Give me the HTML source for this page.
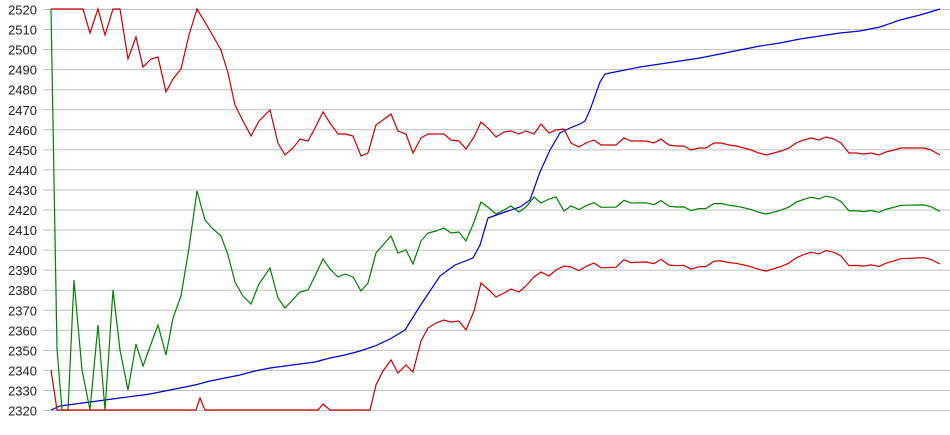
<!DOCTYPE html>
<html><head><meta charset="utf-8"><style>
html,body{margin:0;padding:0;background:#fff;width:950px;height:435px;overflow:hidden}
svg{display:block}
text{font-family:"Liberation Sans",Arial,sans-serif;font-size:13px;fill:#222}
</style></head><body>
<svg id="s" width="950" height="435" xmlns="http://www.w3.org/2000/svg">
<g id="grid"></g>
<polyline id="blue" fill="none" stroke="#0000cc" stroke-width="1.2" points="51,410 60,406 75,404 90,402 105,400 120,398 135,396 150,394 165,391 180,388 195,385 210,381 225,378 240,375 255,371 270,368 285,366 300,364 315,362 330,358 345,355 360,351 375,346 390,339 405,330 420,306 440,276 455,265 473,258 480,245 488,218 505,212 520,207 530,200 540,172 550,150 560,133 570,128 580,124 585,121 590,110 595,96 600,82 605,74 620,71 640,67 660,64 680,61 700,58 720,54 740,50 760,46 780,43 800,39 820,36 840,33 860,31 880,27 900,20 920,15 940,9"/>
<polyline id="green" fill="none" stroke="#008000" stroke-width="1.2"/>
<polyline id="red2" fill="none" stroke="#cc0000" stroke-width="1.2"/>
<polyline id="red1" fill="none" stroke="#cc0000" stroke-width="1.2"/>
</svg>
<script>
var g=document.getElementById('grid'),ns="http://www.w3.org/2000/svg";
for(var i=0;i<=20;i++){var v=2520-i*10,y=9.5+i*20.05;
var l=document.createElementNS(ns,'line');l.setAttribute('x1',43);l.setAttribute('x2',950);l.setAttribute('y1',y);l.setAttribute('y2',y);l.setAttribute('stroke','#c0c0c0');l.setAttribute('stroke-width','1');g.appendChild(l);
var t=document.createElementNS(ns,'text');t.setAttribute('x',37);t.setAttribute('y',y+5);t.setAttribute('text-anchor','end');t.textContent=v;g.appendChild(t);}
var r1=[[51,9],[83,9],[90,33],[98,9],[105,35],[113,9],[120,9],[128,59],[136,37],[143,67],[151,59],[158,57],[166,92],[173,79],[181,69],[189,35],[197,9],[205,22],[213,36],[221,50],[228,73],[235,105],[243,121],[251,136],[259,121],[270,110],[278,143],[285,155],[293,148],[300,139],[308,141],[315,128],[323,112],[330,123],[338,134],[345,134],[353,136],[361,156],[368,153],[376,125],[383,120],[391,114],[398,131],[406,134],[413,153],[421,138],[428,134],[436,134],[444,134],[451,140],[459,141],[466,149],[474,137],[481,122],[489,129],[496,137],[504,132],[511,131],[519,134],[526,131],[534,134],[541,124],[549,133],[556,130],[564,129],[571,143],[579,147],[586,143],[594,140],[601,145],[609,145],[616,145],[624,138],[631,141],[639,141],[646,141],[654,143],[661,139],[669,145],[676,146],[684,146],[691,150],[699,148],[706,148],[714,143],[721,143],[729,145],[736,146],[744,148],[751,150],[759,153],[766,155],[774,153],[781,151],[789,148],[796,143],[804,140],[811,138],[819,140],[826,137],[834,139],[841,143],[849,153],[856,153],[864,154],[871,153],[879,155],[886,152],[894,150],[901,148],[909,148],[916,148],[924,148],[931,150],[940,155]];
var gr=[[51,9],[57,349],[62,410],[68,410],[74,280],[82,370],[90,410],[98,325],[105,410],[113,290],[120,350],[128,390],[136,344],[143,366],[151,344],[158,325],[166,355],[173,318],[181,296],[189,248],[197,191],[205,220],[213,229],[221,236],[228,255],[235,282],[243,296],[251,304],[259,284],[270,268],[278,298],[285,308],[300,292],[308,290],[315,276],[323,259],[330,269],[338,277],[345,274],[353,277],[361,291],[368,283],[376,253],[383,245],[391,236],[398,253],[406,250],[413,264],[421,241],[428,233],[436,231],[444,228],[451,233],[459,232],[466,241],[474,222],[481,202],[489,208],[496,214],[504,210],[511,206],[519,212],[526,207],[534,197],[541,203],[549,199],[556,197],[564,211]];
var r2=[[51,370],[57,410],[196,410],[200,398],[205,410],[318,410],[323,404],[330,410],[370,410],[376,385],[383,371],[391,360],[398,373],[406,365],[413,372],[421,341],[428,328],[436,323],[444,320],[451,322],[459,321],[466,330],[474,311],[481,283],[489,290],[496,297],[504,293],[511,289],[519,292],[526,286],[534,277],[541,272],[549,276],[556,270],[564,266]];
r1.forEach(function(p){if(p[0]>=571){var d=p[1]-141,f=(p[0]-571)/369;gr.push([p[0],204-6*f+d*0.95]);r2.push([p[0],265-15*f+d*1.0]);}});
function s(a){return a.map(function(p){return p[0]+','+p[1].toFixed(1)}).join(' ')}
document.getElementById('red1').setAttribute('points',s(r1));
document.getElementById('green').setAttribute('points',s(gr));
document.getElementById('red2').setAttribute('points',s(r2));
</script>
</body></html>
